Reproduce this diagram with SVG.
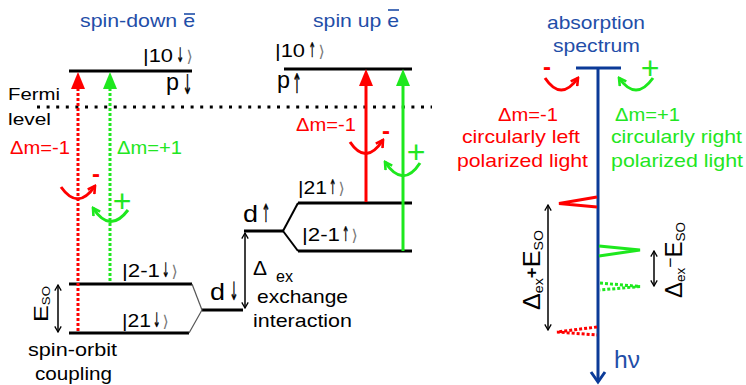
<svg xmlns="http://www.w3.org/2000/svg" width="746" height="385" viewBox="0 0 746 385" font-size="19">
<style>
.t{font-family:"Liberation Sans","DejaVu Sans",Arial,sans-serif;}
.ar{font-family:"DejaVu Sans",sans-serif;fill:#000;stroke:#000;stroke-width:0.5;}
.k{fill:#000;}
.b{fill:#1f4ea8;}
.r{fill:#ff0000;}
.g{fill:#22e622;}
.lv{stroke:#000;stroke-width:3;fill:none;}
.sl{stroke:#555;stroke-width:1.2;fill:none;}
.sl2{stroke:#000;stroke-width:2;fill:none;}
.ang{fill:#777;font-family:"DejaVu Sans",sans-serif;}
.dotR{stroke:#ff0000;stroke-width:3;stroke-dasharray:3 2;fill:none;}
.dotG{stroke:#1ee81e;stroke-width:3;stroke-dasharray:3 2;fill:none;}
.solR{stroke:#ff0000;stroke-width:3;fill:none;}
.solG{stroke:#1ee81e;stroke-width:3;fill:none;}
.dbl{stroke:#000;stroke-width:1.5;fill:none;marker-start:url(#chK);marker-end:url(#chK);}
.axis{stroke:#0b3a98;stroke-width:3;fill:none;}
</style>
<defs>
<marker id="chR" viewBox="0 0 10 10" refX="8" refY="5" markerWidth="10" markerHeight="10" markerUnits="userSpaceOnUse" orient="auto"><path d="M1,1 L8,5 L1,9" fill="none" stroke="#ff0000" stroke-width="2.6"/></marker>
<marker id="chG" viewBox="0 0 10 10" refX="8" refY="5" markerWidth="10" markerHeight="10" markerUnits="userSpaceOnUse" orient="auto"><path d="M1,1 L8,5 L1,9" fill="none" stroke="#1ee81e" stroke-width="2.6"/></marker>
<marker id="chK" viewBox="0 0 10 10" refX="9" refY="5" markerWidth="8" markerHeight="8" markerUnits="userSpaceOnUse" orient="auto-start-reverse"><path d="M2,1 L9,5 L2,9" fill="none" stroke="#000" stroke-width="1.6"/></marker>
</defs>

<g id="title-spin-down">
<text class="t b" x="80" y="27" textLength="115" lengthAdjust="spacingAndGlyphs">spin-down e</text>
<line x1="184" y1="14" x2="195" y2="14" stroke="#1f4ea8" stroke-width="1.6"/>
</g>
<g id="title-spin-up">
<text class="t b" x="313" y="27" textLength="86" lengthAdjust="spacingAndGlyphs">spin up e</text>
<line x1="388" y1="10" x2="399" y2="10" stroke="#1f4ea8" stroke-width="1.6"/>
</g>

<g id="fermi">
<text class="t k" x="8" y="100" font-size="17" textLength="52" lengthAdjust="spacingAndGlyphs">Fermi</text>
<text class="t k" x="8" y="125" font-size="17" textLength="43" lengthAdjust="spacingAndGlyphs">level</text>
<line x1="37" y1="107" x2="432" y2="107" stroke="#000" stroke-width="3" stroke-dasharray="3 6.6"/>
</g>

<g id="level-p-down">
<line class="lv" x1="69" y1="71" x2="192" y2="71"/>
<text class="t k" x="143" y="62"><tspan font-size="18" textLength="30" lengthAdjust="spacingAndGlyphs">|10</tspan><tspan class="ar" dx="3.5" font-size="20" textLength="7.5" lengthAdjust="spacingAndGlyphs">↓</tspan><tspan class="ang" dx="2.5" font-size="16">⟩</tspan></text>
<text class="t k" x="166" y="90"><tspan font-size="24" textLength="13" lengthAdjust="spacingAndGlyphs">p</tspan><tspan class="ar" dx="3.5" dy="4" font-size="27" textLength="10" lengthAdjust="spacingAndGlyphs">↓</tspan></text>
</g>
<g id="level-2m1-down">
<line class="lv" x1="69" y1="284" x2="192" y2="284"/>
<text class="t k" x="122" y="277"><tspan font-size="18" textLength="38" lengthAdjust="spacingAndGlyphs">|2-1</tspan><tspan class="ar" dx="2" font-size="20" textLength="7.5" lengthAdjust="spacingAndGlyphs">↓</tspan><tspan class="ang" dx="2" font-size="16">⟩</tspan></text>
</g>
<g id="level-21-down">
<line class="lv" x1="69" y1="333" x2="189" y2="333"/>
<text class="t k" x="122" y="327"><tspan font-size="18" textLength="29" lengthAdjust="spacingAndGlyphs">|21</tspan><tspan class="ar" dx="2" font-size="20" textLength="7.5" lengthAdjust="spacingAndGlyphs">↓</tspan><tspan class="ang" dx="2" font-size="16">⟩</tspan></text>
</g>
<g id="level-d-down">
<line class="lv" x1="202" y1="310" x2="243" y2="310"/>
<line class="sl" x1="192" y1="284" x2="202" y2="310"/>
<line class="sl" x1="202" y1="310" x2="189" y2="333"/>
<text class="t k" x="210" y="300"><tspan font-size="24" textLength="15" lengthAdjust="spacingAndGlyphs">d</tspan><tspan class="ar" dx="4.5" font-size="25" textLength="9" lengthAdjust="spacingAndGlyphs">↓</tspan></text>
</g>
<g id="spin-orbit">
<text class="t k" transform="translate(48,322) rotate(-90)" font-size="21" textLength="36" lengthAdjust="spacingAndGlyphs">E<tspan font-size="11" dy="2">SO</tspan></text>
<text class="t k" x="28" y="356" textLength="89" lengthAdjust="spacingAndGlyphs">spin-orbit</text>
<text class="t k" x="35" y="380" textLength="77" lengthAdjust="spacingAndGlyphs">coupling</text>
</g>

<g id="level-d-up">
<line class="lv" x1="244" y1="231" x2="283" y2="231"/>
<line class="sl2" x1="283" y1="231" x2="298" y2="203"/>
<line class="sl2" x1="283" y1="231" x2="298" y2="251"/>
<text class="t k" x="243" y="222"><tspan font-size="24" textLength="15" lengthAdjust="spacingAndGlyphs">d</tspan><tspan class="ar" dx="3.5" font-size="25" textLength="9" lengthAdjust="spacingAndGlyphs">↑</tspan></text>
</g>
<g id="level-21-up">
<line class="lv" x1="298" y1="203" x2="412" y2="203"/>
<text class="t k" x="298" y="194"><tspan font-size="18" textLength="29" lengthAdjust="spacingAndGlyphs">|21</tspan><tspan class="ar" dx="2" font-size="20" textLength="7.5" lengthAdjust="spacingAndGlyphs">↑</tspan><tspan class="ang" dx="2" font-size="16">⟩</tspan></text>
</g>
<g id="level-2m1-up">
<line class="lv" x1="298" y1="251" x2="412" y2="251"/>
<text class="t k" x="302" y="241"><tspan font-size="18" textLength="38" lengthAdjust="spacingAndGlyphs">|2-1</tspan><tspan class="ar" dx="2" font-size="20" textLength="7.5" lengthAdjust="spacingAndGlyphs">↑</tspan><tspan class="ang" dx="2" font-size="16">⟩</tspan></text>
</g>
<g id="level-p-up">
<line class="lv" x1="284" y1="69" x2="412" y2="69"/>
<text class="t k" x="275" y="57"><tspan font-size="18" textLength="30" lengthAdjust="spacingAndGlyphs">|10</tspan><tspan class="ar" dx="3.5" font-size="20" textLength="7.5" lengthAdjust="spacingAndGlyphs">↑</tspan><tspan class="ang" dx="2.5" font-size="16">⟩</tspan></text>
<text class="t k" x="277" y="88"><tspan font-size="24" textLength="13" lengthAdjust="spacingAndGlyphs">p</tspan><tspan class="ar" dx="2" dy="5" font-size="27" textLength="10" lengthAdjust="spacingAndGlyphs">↑</tspan></text>
</g>
<g id="exchange">
<text class="t k" x="253" y="275" font-size="21">Δ<tspan x="276" y="282" font-size="16" textLength="17" lengthAdjust="spacingAndGlyphs">ex</tspan></text>
<text class="t k" x="257" y="303" textLength="91" lengthAdjust="spacingAndGlyphs">exchange</text>
<text class="t k" x="253" y="327" textLength="99" lengthAdjust="spacingAndGlyphs">interaction</text>
</g>

<g id="labels-left">
<text class="t r" x="10" y="154" textLength="60" lengthAdjust="spacingAndGlyphs">Δm=-1</text>
<text class="t g" x="117" y="154" textLength="65" lengthAdjust="spacingAndGlyphs">Δm=+1</text>
<text class="t r" x="96" y="182" font-size="24" font-weight="bold" text-anchor="middle">-</text>
<text class="t g" x="122" y="212" font-size="32" text-anchor="middle">+</text>
</g>
<g id="labels-mid">
<text class="t r" x="296" y="131" textLength="60" lengthAdjust="spacingAndGlyphs">Δm=-1</text>
<text class="t r" x="386" y="139" font-size="24" font-weight="bold" text-anchor="middle">-</text>
<text class="t g" x="416" y="163" font-size="32" text-anchor="middle">+</text>
</g>

<g id="spectrum">
<text class="t b" x="547" y="29" textLength="98" lengthAdjust="spacingAndGlyphs">absorption</text>
<text class="t b" x="553" y="52" textLength="87" lengthAdjust="spacingAndGlyphs">spectrum</text>
<line class="axis" x1="576" y1="68" x2="621" y2="68"/>
<line class="axis" x1="598" y1="68" x2="598" y2="381"/>
<polyline class="axis" points="591,372 598,382 605,372"/>
<text class="t b" x="614" y="368" font-size="23" textLength="26" lengthAdjust="spacingAndGlyphs">hν</text>
<text class="t r" x="547" y="75" font-size="24" font-weight="bold" text-anchor="middle">-</text>
<text class="t g" x="650" y="79" font-size="32" text-anchor="middle">+</text>
<text class="t r" x="498" y="121" textLength="60" lengthAdjust="spacingAndGlyphs">Δm=-1</text>
<text class="t r" x="462" y="143" textLength="118" lengthAdjust="spacingAndGlyphs">circularly left</text>
<text class="t r" x="457" y="167" textLength="131" lengthAdjust="spacingAndGlyphs">polarized light</text>
<text class="t g" x="615" y="121" textLength="65" lengthAdjust="spacingAndGlyphs">Δm=+1</text>
<text class="t g" x="611" y="143" textLength="131" lengthAdjust="spacingAndGlyphs">circularly right</text>
<text class="t g" x="611" y="167" textLength="132" lengthAdjust="spacingAndGlyphs">polarized light</text>
<polyline class="solR" points="597,197 559,203.5 597,207"/>
<polyline class="solG" points="599,246 640,250 599,256"/>
<polyline class="dotG" stroke-width="2.5" points="600,283 640,286.5 600,290"/>
<polyline class="dotR" stroke-width="2.5" points="597,327 557,332 597,335"/>
<text class="t k" transform="translate(540,310) rotate(-90)" font-size="23" textLength="80" lengthAdjust="spacingAndGlyphs">Δ<tspan font-size="13" dy="3">ex</tspan><tspan font-size="17" font-weight="bold" dy="-6">+</tspan><tspan dy="3">E</tspan><tspan font-size="13" dy="3">SO</tspan></text>
<text class="t k" transform="translate(682,298) rotate(-90)" font-size="23" textLength="76" lengthAdjust="spacingAndGlyphs">Δ<tspan font-size="13" dy="3">ex</tspan><tspan font-size="17" dy="-9">−</tspan><tspan dy="6">E</tspan><tspan font-size="13" dy="3">SO</tspan></text>
</g>

<g id="connectors">
<line class="dotR" x1="78" y1="88" x2="78" y2="332"/>
<polygon points="71,89 85,89 78,72" fill="#ff0000"/>
<line class="dotG" x1="110" y1="88" x2="110" y2="283"/>
<polygon points="103,89 117,89 110,72" fill="#1ee81e"/>
<line class="solR" x1="366" y1="86" x2="366" y2="202"/>
<polygon points="359,86 373,86 366,69" fill="#ff0000"/>
<line class="solG" x1="403" y1="86" x2="403" y2="251"/>
<polygon points="396,86 410,86 403,69" fill="#1ee81e"/>
<path class="solR" d="M61,187 Q78,211 95,186" marker-end="url(#chR)"/>
<path class="solG" d="M128,210 Q110,234 93,208" marker-end="url(#chG)"/>
<path class="solR" d="M350,142 Q366,166 383,140" marker-end="url(#chR)"/>
<path class="solG" d="M420,163 Q403,189 385,162" marker-end="url(#chG)"/>
<path class="solR" d="M545,78 Q561,102 578,78" marker-end="url(#chR)"/>
<path class="solG" d="M653,78 Q636,102 619,78" marker-end="url(#chG)"/>
<line class="dbl" x1="58" y1="285" x2="58" y2="332"/>
<line class="dbl" x1="245" y1="233" x2="245" y2="308"/>
<line class="dbl" x1="548" y1="205" x2="548" y2="330"/>
<line class="dbl" x1="654" y1="251" x2="654" y2="286"/>
</g>
</svg>
